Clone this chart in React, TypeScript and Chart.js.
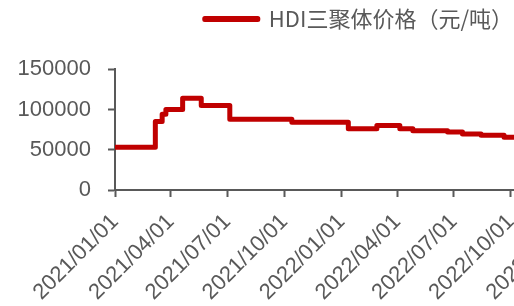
import React, { useEffect, useRef } from "react";
import { Chart, registerables } from "chart.js";

Chart.register(...registerables);

// ---- data ----
const seriesLabel = "HDI三聚体价格（元/吨）";
const changeDates = [
  "2021/01/01", "2021/03/07", "2021/03/18", "2021/03/24", "2021/04/20",
  "2021/05/20", "2021/07/05", "2021/10/13", "2022/01/12", "2022/02/27",
  "2022/04/05", "2022/04/26", "2022/06/21", "2022/07/15", "2022/08/14",
  "2022/09/20", "2022/11/30",
];
const prices = [
  53000, 85000, 94000, 100000, 114000,
  105000, 88000, 84000, 76000, 80000,
  76000, 73500, 72000, 69500, 68000,
  65500, 65500,
];
const tickDates = [
  "2021/01/01", "2021/04/01", "2021/07/01", "2021/10/01", "2022/01/01",
  "2022/04/01", "2022/07/01", "2022/10/01", "2023/01/01",
];
const yTicks = [0, 50000, 100000, 150000];
const axisStart = "2021/01/01";
const axisEnd = "2022/10/06";

function dayOf(s: string): number {
  const [y, m, d] = s.split("/").map(Number);
  const [y0, m0, d0] = axisStart.split("/").map(Number);
  return Math.round((Date.UTC(y, m - 1, d) - Date.UTC(y0, m0 - 1, d0)) / 86400000);
}

export default function App() {
  const ref = useRef<HTMLCanvasElement | null>(null);

  useEffect(() => {
    if (!ref.current) return;
    const tickDays = tickDates.map(dayOf);
    const points = changeDates.map((d, i) => ({ x: dayOf(d), y: prices[i] }));
    const gray = "#595959";
    const red = "#C00000";
    const chart = new Chart(ref.current, {
      type: "line",
      data: {
        datasets: [
          {
            label: seriesLabel,
            data: points,
            borderColor: red,
            backgroundColor: red,
            borderWidth: 5,
            pointRadius: 0,
            stepped: "before",
            borderJoinStyle: "round",
            borderCapStyle: "butt",
            fill: false,
          },
        ],
      },
      options: {
        animation: false,
        responsive: false,
        maintainAspectRatio: false,
        layout: { padding: { top: 7, left: 0, right: 0, bottom: 0 } },
        plugins: {
          legend: {
            position: "top",
            align: "end",
            weight: 3000,
            labels: {
              boxWidth: 53,
              boxHeight: 1,
              padding: 1,
              color: gray,
              font: { size: 22, family: "'Noto Sans CJK SC', sans-serif" },
            },
          },
          title: {
            display: true,
            text: "",
            font: { size: 1 },
            padding: { top: 0, bottom: 28 },
          },
          tooltip: { enabled: false },
        },
        scales: {
          x: {
            type: "linear",
            min: 0,
            max: dayOf(axisEnd),
            afterBuildTicks: (s: any) => {
              s.ticks = tickDays.map((v) => ({ value: v }));
            },
            afterFit: (s: any) => {
              s.paddingRight = 0;
              s.paddingLeft = 0;
              s.height = 116;
            },
            ticks: {
              autoSkip: false,
              minRotation: 45,
              maxRotation: 45,
              padding: 12,
              color: gray,
              font: { size: 22, family: "'Liberation Sans', Arial, sans-serif" },
              callback: (v: any) => {
                const i = tickDays.indexOf(Number(v));
                return i >= 0 ? tickDates[i] : "";
              },
            },
            grid: {
              display: true,
              drawOnChartArea: false,
              drawTicks: true,
              tickLength: 7,
              tickColor: gray,
              tickWidth: 2,
            },
            border: { display: true, color: gray, width: 2 },
          },
          y: {
            min: 0,
            max: 150000,
            afterBuildTicks: (s: any) => {
              s.ticks = yTicks.map((v) => ({ value: v }));
            },
            afterFit: (s: any) => {
              s.width = 115;
            },
            ticks: {
              padding: 17,
              color: gray,
              font: { size: 22, family: "'Liberation Sans', Arial, sans-serif" },
              callback: (v: any) => String(v),
            },
            grid: {
              display: true,
              drawOnChartArea: false,
              drawTicks: true,
              tickLength: 7,
              tickColor: gray,
              tickWidth: 2,
            },
            border: { display: true, color: gray, width: 2 },
          },
        },
      },
    } as any);
    return () => chart.destroy();
  }, []);

  return (
    <div style={{ position: "absolute", left: 0, top: 0, width: 514, height: 306, overflow: "hidden", background: "#fff" }}>
      <canvas ref={ref} width={514} height={306} style={{ display: "block" }} />
    </div>
  );
}
